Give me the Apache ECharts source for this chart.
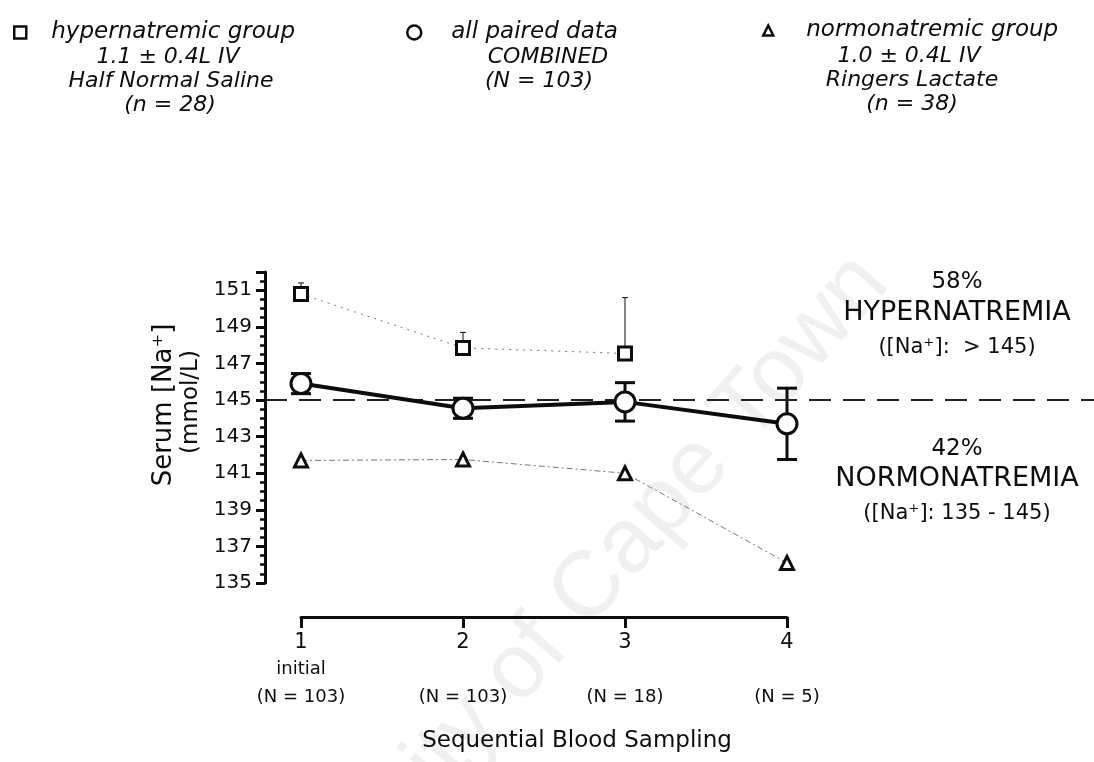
<!DOCTYPE html>
<html>
<head>
<meta charset="utf-8">
<script src="https://cdn.jsdelivr.net/npm/echarts@6/dist/echarts.min.js"></script>
<style>html,body{margin:0;padding:0;background:#fff}#c{width:1094px;height:762px}</style>
</head>
<body>
<div id="c"></div>
<script>
// ---- data ----
const xPositions = [1, 2, 3, 4];
const xTickLabels = ['1', '2', '3', '4'];
const xSubLabels = ['initial', ' ', ' ', ' '];
const xCountLabels = ['(N = 103)', '(N = 103)', '(N = 18)', '(N = 5)'];

const hyperMean = [150.8, 147.85, 147.55];
const hyperUpper = [151.4, 148.7, 150.6];

const combinedMean = [145.9, 144.55, 144.9, 143.7];
const combinedErr = [0.55, 0.55, 1.05, 1.95];

const normoMean = [141.7, 141.75, 141.0, 136.1];

const yMin = 135, yMax = 152, yInterval = 2;
const thresholdValue = 145;

const seriesNames = ['hypernatremic group', 'all paired data', 'normonatremic group'];

// ---- build ----
const FONT = 'DejaVu Sans';
const INK = '#0d0d0d';

const hyperData = hyperMean.map((v, i) => [xPositions[i], v]);
const combinedData = combinedMean.map((v, i) => [xPositions[i], v]);
const normoData = normoMean.map((v, i) => [xPositions[i], v]);
const hyperErrData = hyperMean.map((v, i) => [xPositions[i], v, hyperUpper[i], 0]);
const combinedErrData = combinedMean.map((v, i) => [xPositions[i], v - combinedErr[i], v + combinedErr[i], 1]);

function errorBars(capHalf, lw) {
  return function (params, api) {
    const x = api.value(0), lo = api.value(1), hi = api.value(2), both = api.value(3);
    const pHi = api.coord([x, hi]);
    const pLo = api.coord([x, lo]);
    const style = { stroke: INK, lineWidth: lw, fill: null };
    const children = [
      { type: 'line', shape: { x1: pHi[0], y1: pHi[1], x2: pLo[0], y2: pLo[1] }, style },
      { type: 'line', shape: { x1: pHi[0] - capHalf, y1: pHi[1], x2: pHi[0] + capHalf, y2: pHi[1] }, style }
    ];
    if (both) children.push({ type: 'line', shape: { x1: pLo[0] - capHalf, y1: pLo[1], x2: pLo[0] + capHalf, y2: pLo[1] }, style });
    return { type: 'group', children };
  };
}

const chart = echarts.init(document.getElementById('c'), null, { renderer: 'canvas' });

const legendText = { fontFamily: FONT, fontStyle: 'italic', fontSize: 23, color: INK };

function subText(x, y, t) {
  return { type: 'text', x: x, y: y, style: { text: t, fontFamily: FONT, fontStyle: 'italic', fontSize: 22, fill: INK, align: 'center', verticalAlign: 'middle' } };
}
function rightText(y, t, fs) {
  return { type: 'text', x: 957, y: y, style: { text: t, fontFamily: FONT, fontSize: fs, fill: INK, align: 'center', verticalAlign: 'middle' } };
}

const option = {
  backgroundColor: '#fff',
  animation: false,
  grid: [
    { left: 265, right: 0, top: 272, height: 311 },
    { left: 301, width: 486, top: 560, height: 57 }
  ],
  legend: [
    {
      padding: 0, selectedMode: false, left: 13, top: 21, itemWidth: 12, itemHeight: 12, icon: 'rect',
      itemStyle: { color: '#fff', borderColor: INK, borderWidth: 2.5 },
      data: [seriesNames[0]],
      textStyle: Object.assign({}, legendText, { padding: [0, 0, 0, 20] })
    },
    {
      padding: 0, selectedMode: false, left: 406, top: 21, itemWidth: 14, itemHeight: 14, icon: 'circle',
      itemStyle: { color: '#fff', borderColor: INK, borderWidth: 2.5 },
      data: [seriesNames[1]],
      textStyle: Object.assign({}, legendText, { padding: [0, 0, 0, 25] })
    },
    {
      padding: 0, selectedMode: false, left: 762, top: 19, itemWidth: 10, itemHeight: 10, icon: 'triangle',
      itemStyle: { color: '#fff', borderColor: INK, borderWidth: 2.5 },
      data: [seriesNames[2]],
      textStyle: Object.assign({}, legendText, { padding: [0, 0, 0, 28] })
    }
  ],
  xAxis: [
    { gridIndex: 0, type: 'value', min: 1 - 36 / 162, max: 1 - 36 / 162 + 829 / 162, show: false },
    {
      gridIndex: 1, type: 'value', min: 1, max: 4, interval: 1, position: 'bottom',
      axisLine: { show: true, onZero: false, lineStyle: { color: INK, width: 3 } },
      axisTick: { show: true, length: 11, lineStyle: { color: INK, width: 3 } },
      splitLine: { show: false },
      axisLabel: {
        margin: 14, color: INK, fontFamily: FONT,
        formatter: function (v) {
          const i = xPositions.indexOf(v);
          if (i < 0) return '';
          return '{n|' + xTickLabels[i] + '}\n{s|' + xSubLabels[i] + '}\n{s|' + xCountLabels[i] + '}';
        },
        rich: {
          n: { fontFamily: FONT, fontSize: 21, color: INK, lineHeight: 24 },
          s: { fontFamily: FONT, fontSize: 18, color: INK, lineHeight: 28 }
        }
      },
      name: 'Sequential Blood Sampling', nameLocation: 'middle', nameGap: 113,
      nameTextStyle: { fontFamily: FONT, fontSize: 23, color: INK, padding: [0, 0, 0, 66] }
    }
  ],
  yAxis: [
    {
      gridIndex: 0, type: 'value', min: yMin, max: yMax, interval: yInterval,
      axisLine: { show: true, onZero: false, lineStyle: { color: INK, width: 3 } },
      axisTick: { show: true, length: 9, lineStyle: { color: INK, width: 3 } },
      minorTick: { show: true, splitNumber: 4, length: 5, lineStyle: { color: INK, width: 2.5 } },
      splitLine: { show: false },
      axisLabel: { showMaxLabel: false, margin: 13, fontFamily: FONT, fontSize: 20, color: INK }
    },
    { gridIndex: 1, type: 'value', min: 0, max: 1, show: false }
  ],
  graphic: [
    { type: 'text', x: 872, y: 268, rotation: 0.85, z: -10,
      style: { text: 'University of Cape Town', fontFamily: 'Liberation Sans', fontSize: 92, fill: '#f0f0f0', align: 'right', verticalAlign: 'middle' } },
    // legend sub-lines
    subText(168, 57, '1.1 \u00b1 0.4L IV'),
    subText(171, 81, 'Half Normal Saline'),
    subText(170, 105, '(n = 28)'),
    subText(548, 57, 'COMBINED'),
    subText(539, 81, '(N = 103)'),
    subText(909, 56, '1.0 \u00b1 0.4L IV'),
    subText(912, 80, 'Ringers Lactate'),
    subText(912, 104, '(n = 38)'),
    // y axis title
    { type: 'text', x: 164, y: 405, rotation: Math.PI / 2,
      style: { text: 'Serum [Na\u207a]', fontFamily: FONT, fontSize: 26, fill: INK, align: 'center', verticalAlign: 'middle' } },
    { type: 'text', x: 191, y: 402, rotation: Math.PI / 2,
      style: { text: '(mmol/L)', fontFamily: FONT, fontSize: 23, fill: INK, align: 'center', verticalAlign: 'middle' } },
    // right annotations
    rightText(282, '58%', 23),
    rightText(313, 'HYPERNATREMIA', 27),
    rightText(348, '([Na\u207a]:  > 145)', 21),
    rightText(449, '42%', 23),
    rightText(479, 'NORMONATREMIA', 27),
    rightText(514, '([Na\u207a]: 135 - 145)', 21)
  ],
  series: [
    {
      name: seriesNames[0], type: 'line', xAxisIndex: 0, yAxisIndex: 0, data: hyperData, z: 3,
      symbol: 'rect', symbolSize: 13,
      itemStyle: { color: '#fff', borderColor: INK, borderWidth: 3 },
      lineStyle: { color: '#777', width: 1, type: [2, 5] }
    },
    {
      name: seriesNames[2], type: 'line', xAxisIndex: 0, yAxisIndex: 0, data: normoData, z: 3,
      symbol: 'triangle', symbolSize: 13,
      itemStyle: { color: '#fff', borderColor: INK, borderWidth: 3 },
      lineStyle: { color: '#777', width: 1, type: [6, 3, 2, 3] }
    },
    {
      type: 'custom', xAxisIndex: 0, yAxisIndex: 0, data: hyperErrData, z: 2,
      renderItem: errorBars(3, 1), silent: true
    },
    {
      type: 'custom', xAxisIndex: 0, yAxisIndex: 0, data: combinedErrData, z: 4,
      renderItem: errorBars(10, 3), silent: true
    },
    {
      name: seriesNames[1], type: 'line', xAxisIndex: 0, yAxisIndex: 0, data: combinedData, z: 5,
      symbol: 'circle', symbolSize: 20,
      itemStyle: { color: '#fff', borderColor: INK, borderWidth: 3 },
      lineStyle: { color: INK, width: 4 },
      markLine: {
        silent: true, symbol: ['none', 'none'], label: { show: false },
        lineStyle: { color: '#222', width: 2, type: [22, 12] },
        data: [{ yAxis: thresholdValue }]
      }
    }
  ]
};
chart.setOption(option);
</script>
</body>
</html>
